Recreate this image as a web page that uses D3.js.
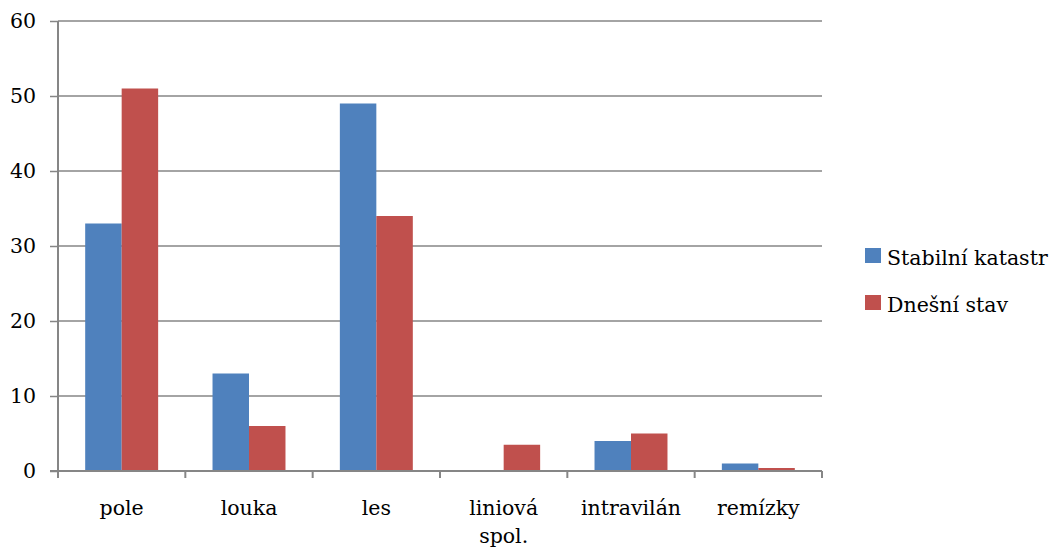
<!DOCTYPE html>
<html><head><meta charset="utf-8">
<script src="https://cdn.jsdelivr.net/npm/d3@7"></script>
<style>body{margin:0;background:#fff;} svg{display:block;}</style>
</head><body>
<script>
const categories = ["pole","louka","les","liniová spol.","intravilán","remízky"];
const seriesNames = ["Stabilní katastr","Dnešní stav"];
const stabilni = [33,13,49,0,4,1];
const dnesni = [51,6,34,3.5,5,0.4];
const yTicks = [0,10,20,30,40,50,60];
const colors = ["#4F81BD","#C0504D"];

(function(){
const W=1064,H=551;
const svg=d3.select("body").append("svg").attr("width",W).attr("height",H);
const font="'DejaVu Serif', serif";
const fs=20.5;
const pl=58,pr=822,pt=21,pb=471;
const x=d3.scaleBand().domain(categories).range([pl,pr]).paddingInner(0.427).paddingOuter(0.2135);
const x1=d3.scaleBand().domain(seriesNames).range([0,x.bandwidth()]);
const y=d3.scaleLinear().domain([0,60]).range([pb,pt]);
const grid="#868686";

svg.append("g").selectAll("line").data(yTicks.filter(d=>d>0)).join("line")
 .attr("x1",pl).attr("x2",pr).attr("y1",d=>y(d)).attr("y2",d=>y(d))
 .attr("stroke",grid).attr("stroke-width",1.5);

const data=[stabilni,dnesni];
data.forEach((vals,si)=>{
  svg.append("g").selectAll("rect").data(categories).join("rect")
   .attr("x",c=>x(c)+x1(seriesNames[si]))
   .attr("width",x1.bandwidth())
   .attr("y",(c,i)=>y(vals[i]))
   .attr("height",(c,i)=>y(0)-y(vals[i]))
   .attr("fill",colors[si]);
});

const ya=svg.append("g").attr("transform",`translate(${pl},0)`)
 .call(d3.axisLeft(y).tickValues(yTicks).tickSize(8).tickPadding(14).tickFormat(d3.format("d")));
ya.select(".domain").attr("stroke",grid).attr("stroke-width",2).attr("d",`M0,${pt}V${pb}`);
ya.selectAll(".tick line").attr("stroke",grid).attr("stroke-width",1.5);
ya.selectAll("text").attr("font-family",font).attr("font-size",fs).attr("fill","#000");

const step=x.step();
const xa=svg.append("g").attr("transform",`translate(0,${pb})`);
xa.append("line").attr("x1",pl-8).attr("x2",pr).attr("y1",0).attr("y2",0).attr("stroke",grid).attr("stroke-width",2);
xa.selectAll(".xt").data(d3.range(categories.length+1)).join("line")
 .attr("x1",i=>pl+i*step).attr("x2",i=>pl+i*step).attr("y1",0).attr("y2",7)
 .attr("stroke",grid).attr("stroke-width",2);
categories.forEach(c=>{
  const cx=x(c)+x.bandwidth()/2;
  const words = c==="liniová spol."?["liniová","spol."]:[c];
  words.forEach((w,k)=>{
    xa.append("text").attr("x",cx).attr("y",44+k*28).attr("text-anchor","middle")
     .attr("font-family",font).attr("font-size",fs).attr("fill","#000").text(w);
  });
});

const lg=svg.append("g");
seriesNames.forEach((s,i)=>{
  lg.append("rect").attr("x",865).attr("y",248+i*47).attr("width",16).attr("height",15).attr("fill",colors[i]);
  lg.append("text").attr("x",887).attr("y",265+i*47).attr("font-family",font).attr("font-size",fs).attr("fill","#000").text(s);
});
})();
</script>
</body></html>
